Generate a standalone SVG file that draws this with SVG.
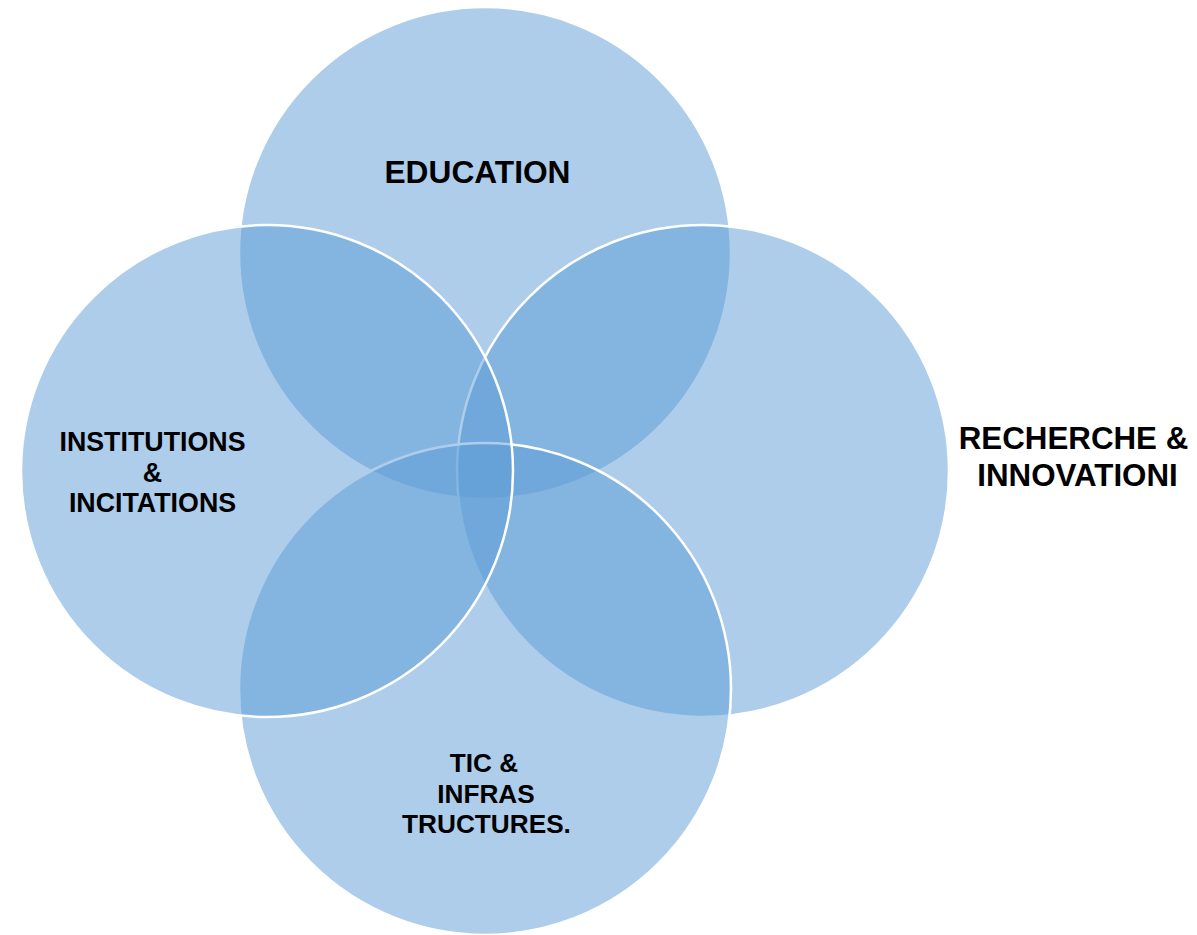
<svg xmlns="http://www.w3.org/2000/svg" width="1197" height="935" viewBox="0 0 1197 935">
<style>
.c{fill:#5B9BD5;fill-opacity:0.5;stroke:#FFFFFF;stroke-width:2.5}
.t{font-family:"Liberation Sans",Arial,sans-serif;font-weight:bold;fill:#000;text-anchor:middle}
</style>
<rect width="1197" height="935" fill="#FFFFFF"/>
<g id="education"><circle class="c" cx="485" cy="253" r="246"/></g>
<g id="recherche"><circle class="c" cx="703" cy="471" r="246"/></g>
<g id="tic"><circle class="c" cx="485" cy="689" r="246"/></g>
<g id="institutions"><circle class="c" cx="267" cy="471" r="246"/></g>
<g id="connectors"></g>
<g id="labels">
<text class="t" x="477.5" y="183" font-size="31.7">EDUCATION</text>
<text class="t" x="1073.5" y="449" font-size="31.3">RECHERCHE &amp;</text>
<text class="t" x="1077.5" y="486" font-size="31.3">INNOVATIONI</text>
<text class="t" x="152.5" y="451" font-size="26.8">INSTITUTIONS</text>
<text class="t" x="152.5" y="482" font-size="26.8">&amp;</text>
<text class="t" x="152.5" y="512" font-size="26.8">INCITATIONS</text>
<text class="t" x="484" y="772" font-size="26.2">TIC &amp;</text>
<text class="t" x="486" y="803" font-size="26.2">INFRAS</text>
<text class="t" x="486.5" y="833" font-size="26.2">TRUCTURES.</text>
</g>
</svg>
